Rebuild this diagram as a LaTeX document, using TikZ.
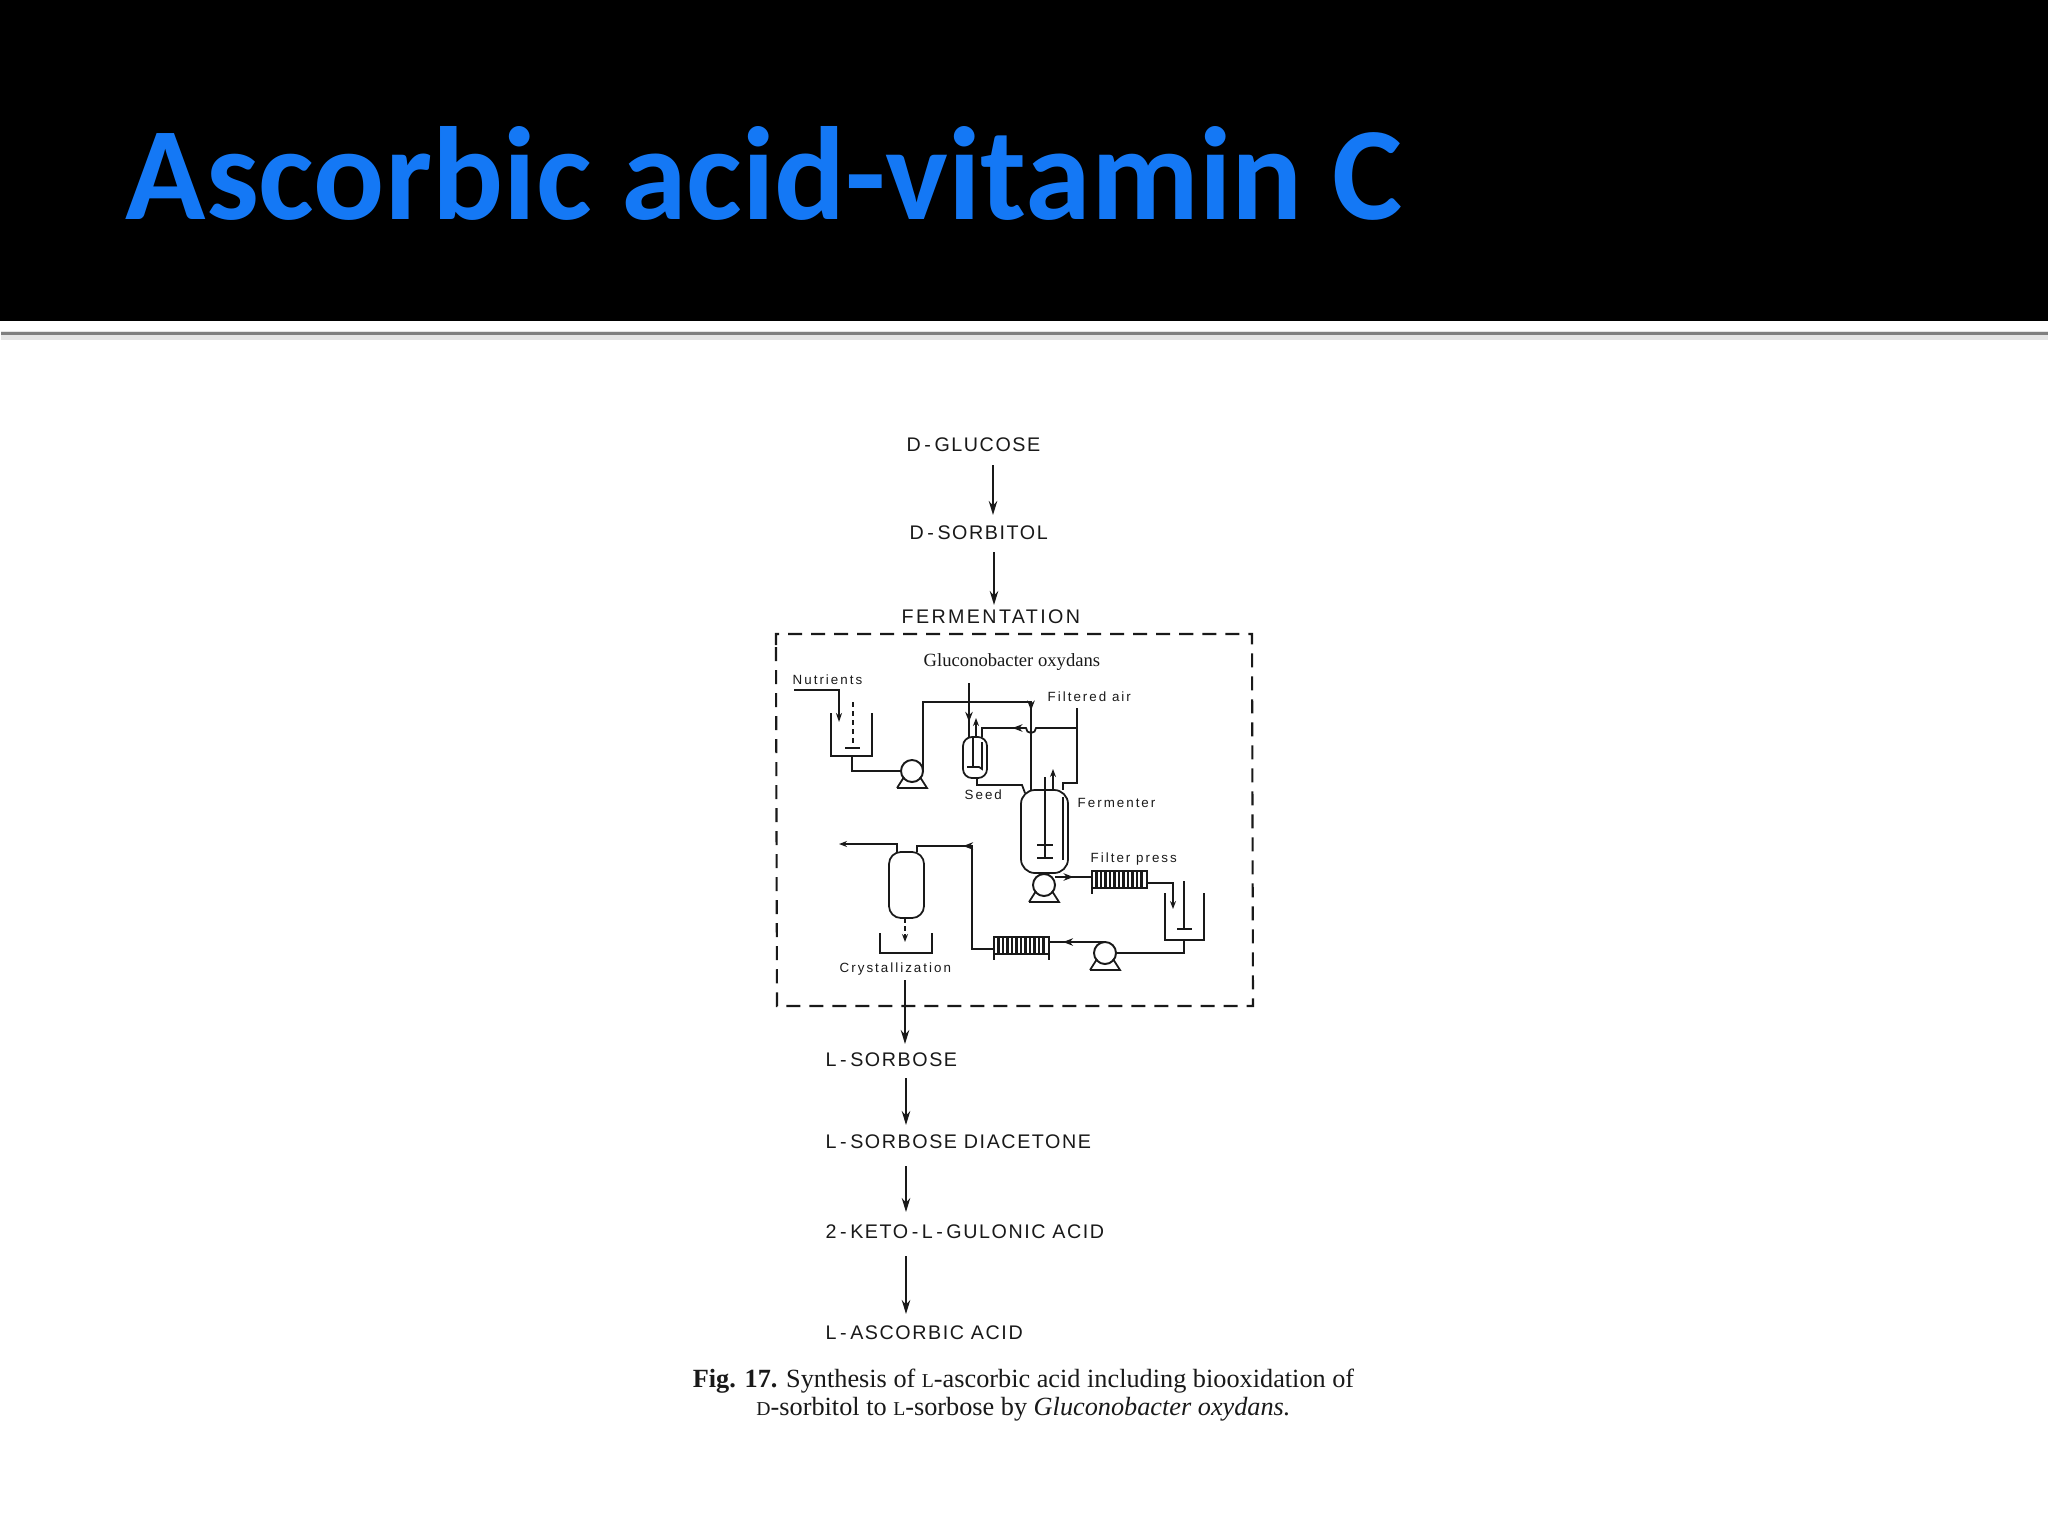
\documentclass[tikz,border=0pt]{standalone}
\usepackage{fontspec}
\usepackage{tikz}
\usetikzlibrary{arrows.meta, calc, decorations.markings}
\setmainfont{Liberation Serif}
\newfontfamily\titlefont{Carlito}
\newfontfamily\stagefont[LetterSpace=8, WordSpace=0.5]{Liberation Sans}
\newfontfamily\wideletters[LetterSpace=12]{Liberation Sans}
\newfontfamily\partfont[LetterSpace=15]{Liberation Sans}
\definecolor{titleblue}{RGB}{20, 120, 245}
\definecolor{printblack}{RGB}{25, 25, 25}
\newcommand{\smcap}[1]{{\fontsize{5.6}{6}\selectfont #1}}
\tikzset{
    stage/.style={anchor=west, inner sep=0pt, text=printblack, font=\stagefont\fontsize{5.6}{7}\selectfont},
    partlabel/.style={anchor=west, inner sep=0pt, text=printblack, font=\partfont\fontsize{3.8}{5}\selectfont},
    arrow/.style={-{Stealth[length=0.14cm, width=0.085cm]}, line width=0.55pt, printblack},
    pipe/.style={line width=0.5pt, printblack},
    flowtip/.style={pipe, postaction={decorate}, decoration={markings, mark=at position #1 with {\arrow{Stealth[length=0.1cm, width=0.075cm]}}}},
    vessel/.style={rectangle, draw=printblack, line width=0.5pt, rounded corners=0.09cm, inner sep=0pt, outer sep=0pt},
    pump/.style={circle, draw=printblack, line width=0.55pt, minimum size=0.22cm, inner sep=0pt, outer sep=0pt},
    filterbox/.style={rectangle, draw=printblack, line width=0.5pt, minimum width=0.55cm, minimum height=0.17cm, inner sep=0pt, outer sep=0pt}
}
\begin{document}
\begin{tikzpicture}[x=0.01cm, y=-0.01cm]
    \useasboundingbox (0,0) rectangle (2048,1536);
    \fill[black] (0,0) rectangle (2048,321);
    \fill[black!10] (1,331) rectangle (2048,340);
    \fill[black!50] (1,331.5) rectangle (2048,335);
    \node[anchor=base west, inner sep=0pt, text=titleblue, font=\titlefont\bfseries\fontsize{37.7}{44}\selectfont] (title) at (125,219) {Ascorbic acid-vitamin C};

    % main route, top part
    \node[stage] (glucose) at (906,445) {D - GLUCOSE};
    \node[stage] (sorbitol) at (909,533) {D - SORBITOL};
    \node[stage, font=\wideletters\fontsize{5.6}{7}\selectfont] (fermentation) at (901,617) {FERMENTATION};
    \coordinate (glucoseout) at (993,465);
    \coordinate (sorbitolin) at (993,515);
    \coordinate (sorbitolout) at (994,552);
    \coordinate (fermin) at (994,605);
    \draw[arrow] (glucoseout) -- (sorbitolin);
    \draw[arrow] (sorbitolout) -- (fermin);

    \draw[pipe, line width=0.6pt, dash pattern=on 0.14cm off 0.09cm] (776,645) -- (776,634) -- (1252,634) -- (1253,1006) -- (777,1006) -- cycle;

    \node[anchor=west, inner sep=0pt, text=printblack, font=\fontsize{5.3}{6}\selectfont] (organism) at (923,662) {Gluconobacter oxydans};
    \node[partlabel] (nutrients) at (792,680) {Nutrients};
    \node[partlabel] (filteredair) at (1047,697) {Filtered air};
    \node[partlabel] (seedlabel) at (964,795) {Seed};
    \node[partlabel] (fermenterlabel) at (1077,803) {Fermenter};
    \node[partlabel] (presslabel) at (1090,859) {Filter press};
    \node[partlabel] (crystlabel) at (839,969) {Crystallization};

    % equipment
    \node[vessel, minimum width=0.24cm, minimum height=0.41cm] (seed) at (975,757.5) {};
    \node[vessel, minimum width=0.47cm, minimum height=0.83cm, rounded corners=0.14cm] (fermenter) at (1044.5,831.5) {};
    \node[vessel, minimum width=0.35cm, minimum height=0.66cm, rounded corners=0.12cm] (crystvessel) at (906.5,885) {};
    \node[pump] (pumpa) at (912,771) {};
    \node[pump] (pumpb) at (1044,885) {};
    \node[pump] (pumpc) at (1105,953) {};
    \node[filterbox] (filtera) at (1119.5,879.5) {};
    \node[filterbox] (filterb) at (1021.5,945.5) {};

    \foreach \p in {pumpa, pumpb, pumpc} {
        \draw[pipe] ($(\p)+(-15,17)$) -- ($(\p)+(15,17)$) -- ($(\p)+(8,6)$);
        \draw[pipe] ($(\p)+(-15,17)$) -- ($(\p)+(-8,6)$);
    }
    \foreach \f in {filtera, filterb} {
        \foreach \i in {4.5,9,...,50} {
            \draw[pipe, line width=0.6pt] ($(\f.north west)+(\i,0)$) -- ($(\f.south west)+(\i,0)$);
        }
        \draw[pipe] (\f.north west) -- ($(\f.south west)+(0,6)$);
    }
    \draw[pipe] (filterb.north east) -- ($(filterb.south east)+(0,6)$);

    % feed tank
    \draw[pipe] (831,713) |- (872,756) -- (872,713);
    \coordinate (tankaout) at (852,756);
    \coordinate (nutrientin) at (794,690);
    \coordinate (nutrientknee) at (839,690);
    \coordinate (nutrientend) at (839,722);
    \draw[arrow, -{Stealth[length=0.09cm, width=0.06cm]}] (nutrientin) -- (nutrientknee) -- (nutrientend);
    \draw[pipe, dashed, dash pattern=on 0.05cm off 0.04cm] (853,702) -- (853,748);
    \draw[pipe] (845,748) -- (860,748);
    \draw[pipe] (tankaout) |- (pumpa.west);

    % seed vessel
    \coordinate (feedtop) at (1031,702);
    \draw[flowtip=0.7] (pumpa.east) |- (feedtop) -- (feedtop |- fermenter.north);
    \coordinate (organismin) at (969,683);
    \draw[flowtip=0.72] (organismin) -- (organismin |- seed.north);
    \coordinate (seedvent) at (976,718);
    \draw[arrow, -{Stealth[length=0.08cm, width=0.06cm]}] (seedvent |- seed.north) -- (seedvent);
    \draw[pipe] (973,737) -- (973,767) (967,767) -- (979,767) -- (982,769) -- (982,742);
    \coordinate (seedout) at (977,785);
    \draw[pipe] (seedout |- seed.south) -- (seedout) -- (1022,785) -- (1025,793);

    % filtered air
    \coordinate (airin) at (1077,708);
    \coordinate (airbranch) at (1077,728);
    \coordinate (airknee) at (1077,783);
    \coordinate (airtop) at (1063,783);
    \coordinate (seedair) at (982,728);
    \draw[pipe] (airin) -- (airknee) -- (airtop) -- (airtop |- fermenter.north);
    \draw[flowtip=0.64] (airbranch) -- (1036,728) arc[start angle=0, end angle=-180, radius=0.05cm] -- (seedair) -- (seedair |- seed.north);

    % fermenter inside
    \coordinate (shafttop) at (1045,777);
    \draw[pipe] (shafttop) -- (1045,858);
    \draw[pipe] (1037,845) -- (1053,845) (1037,858) -- (1053,858);
    \draw[pipe] (1063,797) -- (1063,860);
    \coordinate (fermvent) at (1053,769);
    \draw[arrow, -{Stealth[length=0.08cm, width=0.06cm]}] (fermvent |- fermenter.north) -- (fermvent);

    % harvest and clarification
    \coordinate (pressin) at (1055,877);
    \draw[flowtip=0.5] (pressin) -- (pressin -| filtera.west);
    \coordinate (tankbin) at (1173,883);
    \coordinate (tankbend) at (1173,909);
    \draw[pipe, -{Stealth[length=0.08cm, width=0.06cm]}] (1147,883) -- (tankbin) -- (tankbend);
    \draw[pipe] (1165,893) |- (1204,940) -- (1204,893);
    \draw[pipe] (1184,881) -- (1184,929) (1177,929) -- (1192,929);
    \coordinate (tankbout) at (1184,940);
    \draw[pipe] (tankbout) |- (pumpc.east);
    \coordinate (pumpcup) at (1105,942);
    \draw[flowtip=0.75] (pumpcup) -- (pumpcup -| filterb.east);

    % crystallization
    \coordinate (crystriser) at (972,949);
    \coordinate (crysttop) at (972,846);
    \coordinate (crystin) at (917,846);
    \draw[flowtip=0.72] (filterb.west |- crystriser) -- (crystriser) -- (crysttop) -- (crystin) -- (crystin |- crystvessel.north);
    \coordinate (crystexit) at (897,844);
    \coordinate (crystoff) at (839,844);
    \draw[pipe, -{Stealth[length=0.08cm, width=0.06cm]}] (crystexit |- crystvessel.north) -- (crystexit) -- (crystoff);
    \coordinate (dropend) at (905,942);
    \draw[pipe, dashed, dash pattern=on 0.05cm off 0.03cm, -{Stealth[length=0.08cm, width=0.06cm]}] (dropend |- crystvessel.south) -- (dropend);
    \draw[pipe] (880,933) |- (932,953) -- (932,933);

    % main route, lower part
    \node[stage] (sorbose) at (825,1060) {L - SORBOSE};
    \node[stage] (diacetone) at (825,1142) {L - SORBOSE\, DIACETONE};
    \node[stage] (keto) at (825,1232) {2 - KETO - L - GULONIC\, ACID};
    \node[stage] (ascorbic) at (825,1333) {L - ASCORBIC\, ACID};
    \coordinate (crystout) at (905,980);
    \coordinate (sorbosein) at (905,1044);
    \draw[arrow] (crystout) -- (sorbosein);
    \draw[arrow] (906,1078) coordinate (sorboseout) -- (906,1125) coordinate (diacetonein);
    \draw[arrow] (906,1166) coordinate (diacetoneout) -- (906,1212) coordinate (ketoin);
    \draw[arrow] (906,1256) coordinate (ketoout) -- (906,1314) coordinate (ascorbicin);

    \node[inner sep=0pt, text=printblack, align=center, font=\fontsize{7.47}{8}\selectfont] (caption) at (1023.5,1395) {\textbf{Fig. 17.} Synthesis of \smcap{L}-ascorbic acid including biooxidation of\\\smcap{D}-sorbitol to \smcap{L}-sorbose by \textit{Gluconobacter oxydans.}};
\end{tikzpicture}
\end{document}
